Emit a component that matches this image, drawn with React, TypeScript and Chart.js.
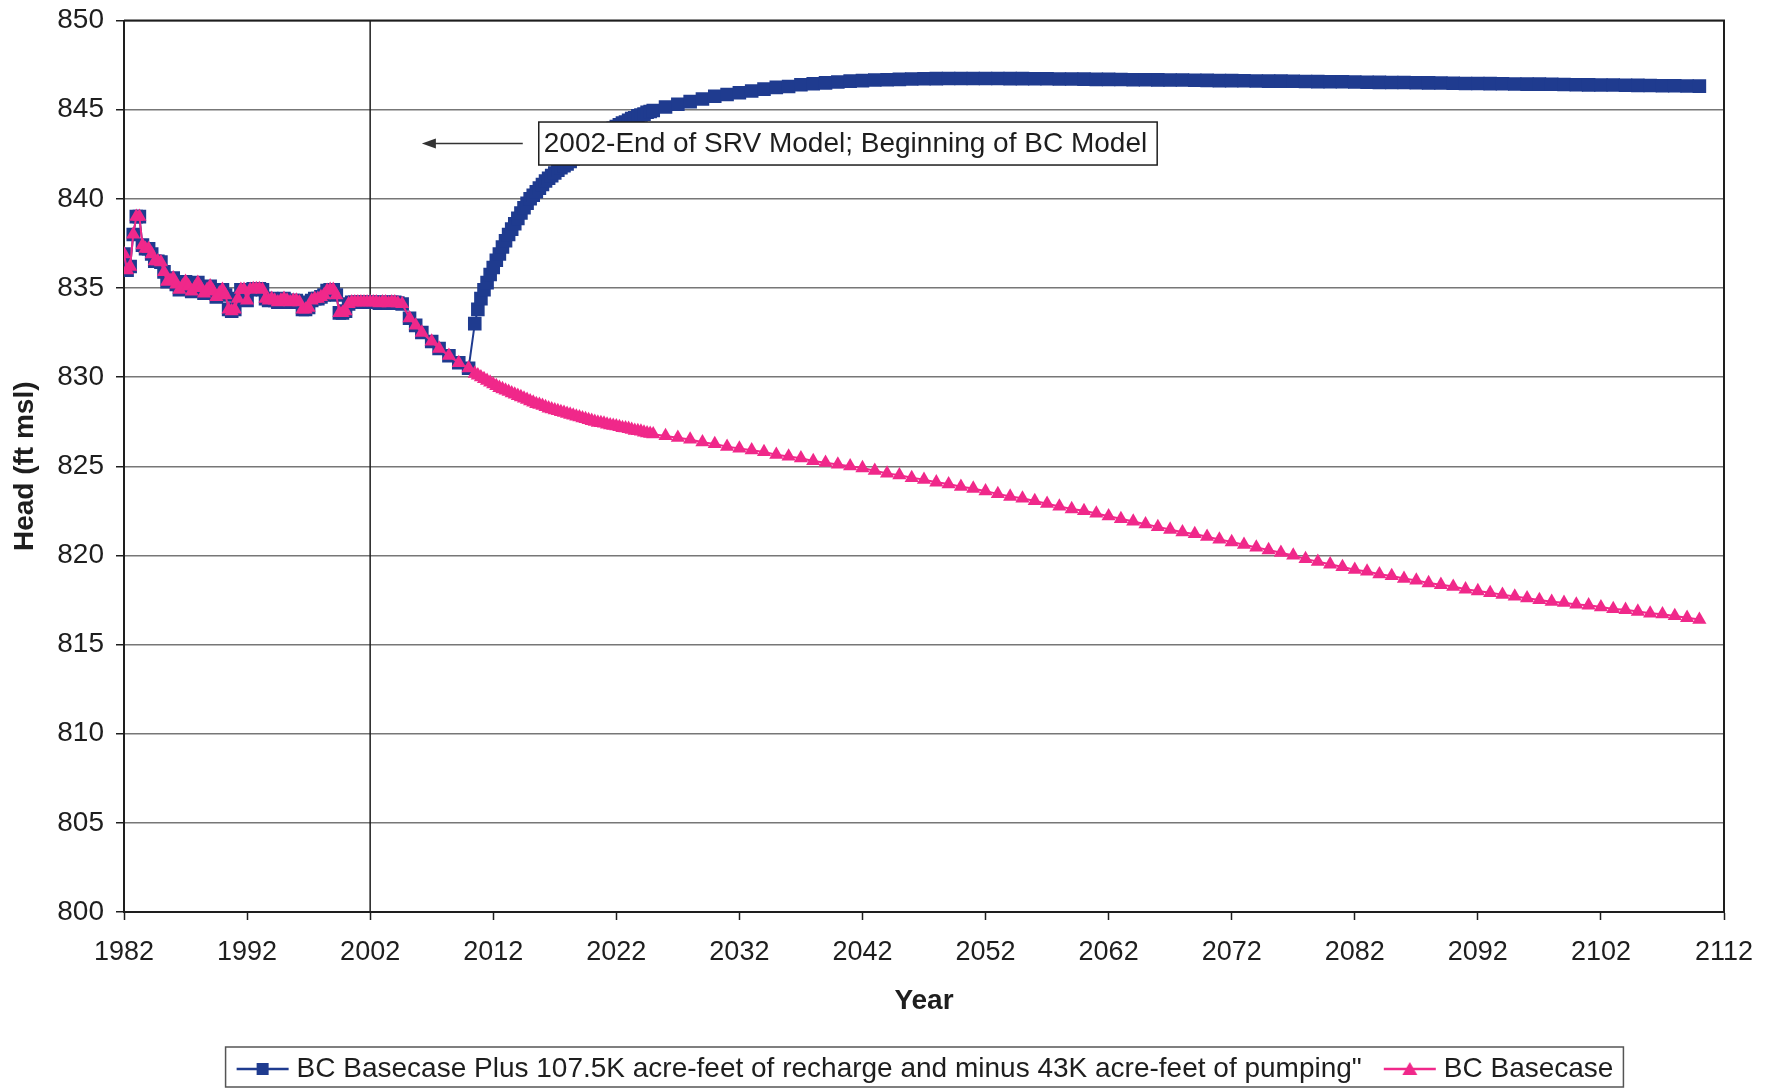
import React, { useEffect, useRef } from "react";
import { Chart, registerables } from "chart.js";

Chart.register(...registerables);

const NAVY = "#1f3b8f";
const PINK = "#f0288a";
const INK = "#1e1e1e";
const GRID = "#777777";
const FONT = "'Liberation Sans', Arial, Helvetica, sans-serif";

// Axis tick values
const xTickYears = [1982, 1992, 2002, 2012, 2022, 2032, 2042, 2052, 2062, 2072, 2082, 2092, 2102, 2112];
const yTickHeads = [800, 805, 810, 815, 820, 825, 830, 835, 840, 845, 850];

// Series labels
const rechargeLabel = 'BC Basecase Plus 107.5K acre-feet of recharge and minus 43K acre-feet of pumping"';
const basecaseLabel = "BC Basecase";

// Annotation
const boundaryYear = 2002;
const noteText = "2002-End of SRV Model; Beginning of BC Model";
const noteYear = 2015.7;
const noteHead = 843.1;
const noteArrowTipYear = 2006.2;

// Shared calibrated history (SRV model), quarterly heads from 1982.00 to 2004.25
const historyStartYear = 1982;
const historyQuarterlyHead = [
  836.9, 836.0, 836.2, 838.0, // 1982
  839.0, 839.0, 837.4, 837.2, // 1983
  837.2, 836.9, 836.5, 836.5, // 1984
  836.45, 835.9, 835.35, 835.4, // 1985
  835.55, 835.2, 834.9, 835.1, // 1986
  835.35, 835.1, 834.8, 835.0, // 1987
  835.3, 835.0, 834.7, 834.9, // 1988
  835.1, 834.8, 834.5, 834.7, // 1989
  834.9, 834.6, 833.8, 833.7, // 1990
  833.8, 834.4, 834.9, 834.9, // 1991
  834.3, 834.9, 834.95, 834.95, // 1992
  834.95, 834.9, 834.4, 834.3, // 1993
  834.4, 834.3, 834.2, 834.3, // 1994
  834.4, 834.3, 834.2, 834.3, // 1995
  834.3, 834.2, 833.8, 833.8, // 1996
  833.9, 834.3, 834.4, 834.4, // 1997
  834.5, 834.6, 834.85, 834.9, // 1998
  834.9, 834.6, 833.6, 833.6, // 1999
  833.7, 834.1, 834.2, 834.2, // 2000
  834.2, 834.2, 834.2, 834.2, // 2001
  834.2, 834.2, 834.2, 834.15, // 2002
  834.2, 834.2, 834.15, 834.2, // 2003
  834.2, 834.15, // 2004
];

// Decline before the two runs split
const transitionYears = [2004.6, 2005.2, 2005.7, 2006.2, 2007.0, 2007.6, 2008.4, 2009.2, 2010.0];
const transitionHead = [834.1, 833.3, 832.9, 832.5, 832.0, 831.6, 831.2, 830.8, 830.5];

// Projection time stamps: quarterly to 2025, then yearly to 2110
const projectionQuarterYears = Array.from({ length: 59 }, (_, i) => 2010.5 + i * 0.25);
const projectionAnnualYears = Array.from({ length: 85 }, (_, i) => 2026 + i);

// Recharge scenario heads
const rechargeQuarterHead = [
  833.0, 833.8, // 2010.50-2010.75
  834.4, 834.9, 835.3, 835.75, // 2011
  836.15, 836.55, 836.9, 837.3, // 2012
  837.65, 838.0, 838.3, 838.6, // 2013
  838.9, 839.2, 839.5, 839.75, // 2014
  840.0, 840.2, 840.4, 840.6, // 2015
  840.8, 841.0, 841.15, 841.3, // 2016
  841.45, 841.6, 841.75, 841.85, // 2017
  841.95, 842.1, 842.25, 842.4, // 2018
  842.55, 842.7, 842.85, 843.0, // 2019
  843.15, 843.3, 843.4, 843.55, // 2020
  843.65, 843.75, 843.85, 843.95, // 2021
  844.05, 844.15, 844.25, 844.3, // 2022
  844.4, 844.5, 844.55, 844.65, // 2023
  844.7, 844.75, 844.85, 844.9, // 2024
  844.95, // 2025
];
const rechargeAnnualHead = [
  845.15, 845.3, 845.45, 845.6, 845.75, 845.85, 845.95, 846.05, 846.15, 846.25, // 2026-2035
  846.3, 846.4, 846.45, 846.5, 846.55, 846.6, 846.63, 846.66, 846.68, 846.7, // 2036-2045
  846.72, 846.73, 846.74, 846.75, 846.75, 846.75, 846.75, 846.75, 846.74, 846.74, // 2046-2055
  846.73, 846.73, 846.72, 846.72, 846.71, 846.7, 846.7, 846.69, 846.68, 846.68, // 2056-2065
  846.67, 846.66, 846.66, 846.65, 846.64, 846.63, 846.63, 846.62, 846.61, 846.6, // 2066-2075
  846.6, 846.59, 846.58, 846.57, 846.56, 846.56, 846.55, 846.54, 846.53, 846.52, // 2076-2085
  846.52, 846.51, 846.5, 846.49, 846.48, 846.47, 846.47, 846.46, 846.45, 846.44, // 2086-2095
  846.43, 846.43, 846.42, 846.41, 846.4, 846.39, 846.38, 846.38, 846.37, 846.36, // 2096-2105
  846.35, 846.34, 846.34, 846.33, 846.32, // 2106-2110
];

// Base case heads
const basecaseQuarterHead = [
  830.2, 830.1, // 2010.50-2010.75
  830.0, 829.9, 829.8, 829.7, // 2011
  829.6, 829.5, 829.4, 829.33, // 2012
  829.25, 829.18, 829.1, 829.03, // 2013
  828.95, 828.88, 828.8, 828.73, // 2014
  828.65, 828.58, 828.5, 828.45, // 2015
  828.4, 828.33, 828.25, 828.2, // 2016
  828.15, 828.1, 828.05, 828.0, // 2017
  827.95, 827.9, 827.85, 827.8, // 2018
  827.75, 827.7, 827.65, 827.6, // 2019
  827.55, 827.5, 827.45, 827.43, // 2020
  827.4, 827.35, 827.3, 827.28, // 2021
  827.25, 827.2, 827.15, 827.13, // 2022
  827.1, 827.05, 827.0, 826.98, // 2023
  826.95, 826.9, 826.85, 826.83, // 2024
  826.8, // 2025
];
const basecaseAnnualHead = [
  826.7, 826.6, 826.5, 826.35, 826.25, 826.1, 826.0, // 2026-2032
  825.9, 825.8, 825.65, 825.55, 825.45, 825.3, 825.2, 825.1, 825.0, 824.9, // 2033-2042
  824.75, 824.6, 824.5, 824.35, 824.25, 824.1, 824.0, 823.85, 823.75, 823.6, // 2043-2052
  823.45, 823.3, 823.2, 823.05, 822.9, 822.75, 822.6, 822.5, 822.35, 822.2, // 2053-2062
  822.05, 821.9, 821.75, 821.6, 821.45, 821.3, 821.2, 821.05, 820.9, 820.75, // 2063-2072
  820.6, 820.45, 820.3, 820.15, 820.0, 819.8, 819.65, 819.5, 819.35, 819.2, // 2073-2082
  819.1, 818.95, 818.85, 818.7, 818.6, 818.45, 818.35, 818.25, 818.1, 818.0, // 2083-2092
  817.9, 817.8, 817.7, 817.6, 817.5, 817.4, 817.35, 817.25, 817.2, 817.1, // 2093-2102
  817.0, 816.95, 816.85, 816.75, 816.7, 816.6, 816.5, 816.4, // 2103-2110
];

type Pt = { x: number; y: number };

function buildSeries(quarterly: number[], annual: number[]): Pt[] {
  const history: Pt[] = historyQuarterlyHead.map((h, i) => ({ x: historyStartYear + i * 0.25, y: h }));
  const transition: Pt[] = transitionYears.map((yr, i) => ({ x: yr, y: transitionHead[i] }));
  const early: Pt[] = projectionQuarterYears.map((yr, i) => ({ x: yr, y: quarterly[i] }));
  const yearly: Pt[] = projectionAnnualYears.map((yr, i) => ({ x: yr, y: annual[i] }));
  return [...history, ...transition, ...early, ...yearly];
}

// Legend key: a short line with the series marker in its middle
function makeLegendSymbol(color: string, shape: "rect" | "triangle"): HTMLCanvasElement {
  const c = document.createElement("canvas");
  c.width = 64;
  c.height = 16;
  const g = c.getContext("2d") as CanvasRenderingContext2D;
  g.strokeStyle = color;
  g.lineWidth = 2.5;
  g.beginPath();
  g.moveTo(10, 8);
  g.lineTo(62, 8);
  g.stroke();
  g.fillStyle = color;
  if (shape === "rect") {
    g.fillRect(30, 2, 12, 12);
  } else {
    g.beginPath();
    g.moveTo(36, 1);
    g.lineTo(43.5, 14);
    g.lineTo(28.5, 14);
    g.closePath();
    g.fill();
  }
  return c;
}

const LEGEND_FONT = 28;

const notesPlugin = {
  id: "modelNotes",
  beforeDatasetsDraw(chart: any) {
    const { ctx, chartArea, scales } = chart;
    const px = scales.x.getPixelForValue(boundaryYear);
    ctx.save();
    ctx.strokeStyle = INK;
    ctx.lineWidth = 1.5;
    ctx.beginPath();
    ctx.moveTo(px, chartArea.top);
    ctx.lineTo(px, chartArea.bottom);
    ctx.stroke();
    ctx.restore();
  },
  afterDatasetsDraw(chart: any) {
    const { ctx, scales } = chart;
    const left = scales.x.getPixelForValue(noteYear);
    const cy = scales.y.getPixelForValue(noteHead);
    ctx.save();
    ctx.font = `28px ${FONT}`;
    const tw = ctx.measureText(noteText).width;
    const h = 43;
    const top = cy - h / 2;
    const w = tw + 15;
    ctx.fillStyle = "#ffffff";
    ctx.fillRect(left, top, w, h);
    ctx.strokeStyle = INK;
    ctx.lineWidth = 1.5;
    ctx.strokeRect(left, top, w, h);
    ctx.fillStyle = INK;
    ctx.textBaseline = "middle";
    ctx.textAlign = "left";
    ctx.fillText(noteText, left + 5, cy + 1);

    // arrow pointing back to the model boundary
    const tip = scales.x.getPixelForValue(noteArrowTipYear);
    const tail = left - 16;
    ctx.strokeStyle = "#333";
    ctx.lineWidth = 1.6;
    ctx.beginPath();
    ctx.moveTo(tail, cy);
    ctx.lineTo(tip + 10, cy);
    ctx.stroke();
    ctx.fillStyle = "#333";
    ctx.beginPath();
    ctx.moveTo(tip, cy);
    ctx.lineTo(tip + 14, cy - 5);
    ctx.lineTo(tip + 14, cy + 5);
    ctx.closePath();
    ctx.fill();
    ctx.restore();
  },
  afterDraw(chart: any) {
    const { ctx, chartArea } = chart;
    ctx.save();
    ctx.strokeStyle = INK;
    ctx.lineWidth = 2;
    ctx.beginPath();
    ctx.moveTo(chartArea.left, chartArea.top);
    ctx.lineTo(chartArea.right, chartArea.top);
    ctx.lineTo(chartArea.right, chartArea.bottom);
    ctx.stroke();

    // frame around the legend row
    const lg = chart.legend;
    const boxes = lg && lg.legendHitBoxes;
    if (boxes && boxes.length) {
      const first = boxes[0];
      const last = boxes[boxes.length - 1];
      const rowMid = first.top + first.height / 2;
      const l = first.left - 9;
      const r = last.left + last.width + 10;
      const t = rowMid - 22;
      const b = chart.height - 1;
      ctx.strokeStyle = "#555";
      ctx.lineWidth = 1.5;
      ctx.strokeRect(l, t, r - l, b - t);
    }
    ctx.restore();
  },
};

export default function App() {
  const canvasRef = useRef<HTMLCanvasElement | null>(null);

  useEffect(() => {
    document.body.style.margin = "0";
    const canvas = canvasRef.current;
    if (!canvas) return;

    const symbols = [makeLegendSymbol(NAVY, "rect"), makeLegendSymbol(PINK, "triangle")];

    const chart = new Chart(canvas, {
      type: "line",
      data: {
        datasets: [
          {
            label: rechargeLabel,
            data: buildSeries(rechargeQuarterHead, rechargeAnnualHead),
            borderColor: NAVY,
            backgroundColor: NAVY,
            borderWidth: 2,
            pointStyle: "rect",
            pointRadius: 9.6,
            pointBorderWidth: 0,
            pointBackgroundColor: NAVY,
            order: 1,
          },
          {
            label: basecaseLabel,
            data: buildSeries(basecaseQuarterHead, basecaseAnnualHead),
            borderColor: PINK,
            backgroundColor: PINK,
            borderWidth: 2,
            pointStyle: "triangle",
            pointRadius: 8.2,
            pointBorderWidth: 0,
            pointBackgroundColor: PINK,
            order: 0,
          },
        ],
      },
      options: {
        animation: false,
        responsive: false,
        devicePixelRatio: 1,
        parsing: false,
        font: { family: FONT },
        layout: { padding: { top: 20.5, right: 51, bottom: -5, left: 0 } },
        plugins: {
          tooltip: { enabled: false },
          legend: {
            position: "bottom",
            fullSize: false,
            labels: {
              usePointStyle: true,
              pointStyleWidth: 48,
              padding: 20,
              color: INK,
              font: { family: FONT, size: LEGEND_FONT },
              sort: (a: any, b: any) => a.datasetIndex - b.datasetIndex,
              generateLabels: (c: any) =>
                Chart.defaults.plugins.legend.labels
                  .generateLabels(c)
                  .map((item: any) => ({ ...item, pointStyle: symbols[item.datasetIndex] })),
            },
          },
        },
        scales: {
          x: {
            type: "linear",
            min: xTickYears[0],
            max: xTickYears[xTickYears.length - 1],
            afterBuildTicks: (scale: any) => {
              scale.ticks = xTickYears.map((v) => ({ value: v }));
            },
            afterFit: (scale: any) => {
              scale.height = 123;
            },
            grid: { drawOnChartArea: false, drawTicks: true, tickLength: 8, tickColor: INK, tickWidth: 1.5 },
            border: { display: true, color: INK, width: 2 },
            ticks: {
              color: INK,
              font: { family: FONT, size: 27 },
              padding: 16,
              maxRotation: 0,
              autoSkip: false,
              callback: (v: any) => String(v),
            },
            title: {
              display: true,
              text: "Year",
              color: INK,
              font: { family: FONT, size: 28, weight: "bold" },
              padding: { top: 0, bottom: 17 },
            },
          },
          y: {
            type: "linear",
            min: yTickHeads[0],
            max: yTickHeads[yTickHeads.length - 1],
            afterBuildTicks: (scale: any) => {
              scale.ticks = yTickHeads.map((v) => ({ value: v }));
            },
            afterFit: (scale: any) => {
              scale.width = 124;
            },
            grid: { color: GRID, lineWidth: 1.5, drawTicks: true, tickLength: 8, tickColor: INK, tickWidth: 1.5 },
            border: { display: true, color: INK, width: 2 },
            ticks: {
              color: INK,
              font: { family: FONT, size: 28, lineHeight: 0.5 },
              padding: 12,
              callback: (v: any) => String(v),
            },
            title: {
              display: true,
              text: "Head (ft msl)",
              color: INK,
              font: { family: FONT, size: 28, weight: "bold" },
              padding: { top: 8, bottom: 0 },
            },
          },
        },
      },
      plugins: [notesPlugin],
    } as any);

    return () => chart.destroy();
  }, []);

  return (
    <div style={{ width: 1775, height: 1088, background: "#ffffff", position: "relative" }}>
      <canvas ref={canvasRef} width={1775} height={1088} style={{ display: "block" }} />
    </div>
  );
}
